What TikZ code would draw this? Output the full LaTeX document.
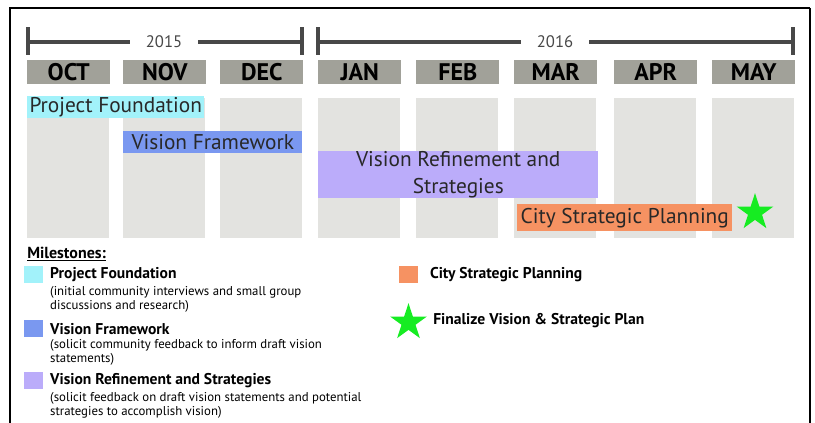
\documentclass[tikz,border=0pt]{standalone}
\usepackage{fontspec}
\setmainfont{PT Sans}
\usetikzlibrary{positioning,shapes.geometric}

\definecolor{monthgray}{RGB}{161,161,153}
\definecolor{colgray}{RGB}{227,227,224}
\definecolor{yeargray}{RGB}{72,72,72}
\definecolor{foundcyan}{RGB}{162,242,250}
\definecolor{frameblue}{RGB}{122,152,240}
\definecolor{refpurple}{RGB}{187,172,250}
\definecolor{cityorange}{RGB}{246,146,98}
\definecolor{stargreen}{RGB}{22,236,34}
\definecolor{bartext}{RGB}{40,40,40}

\tikzset{
  yearline/.style={draw=yeargray, line width=3pt},
  yearlabel/.style={fill=white, text=yeargray, inner xsep=12pt, inner ysep=1pt, font=\fontsize{12.5}{14}\selectfont},
  monthbox/.style={fill=monthgray, anchor=north west, inner sep=0pt, minimum width=62.25pt, minimum height=18pt, font=\bfseries\fontsize{18}{18}\selectfont},
  colbox/.style={fill=colgray, anchor=north west, inner sep=0pt, minimum width=61.5pt, minimum height=105pt},
  phasebar/.style={anchor=north west, inner sep=0pt, text=bartext, align=center, font=\fontsize{16}{20}\selectfont},
  goalstar/.style={star, star points=5, star point ratio=2.618, fill=stargreen, inner sep=0pt, minimum size=29pt},
  keybox/.style={inner sep=0pt, minimum width=14.25pt, minimum height=12.75pt},
  keytitle/.style={inner sep=0pt, font=\bfseries\fontsize{11.7}{13}\selectfont},
  keynote/.style={inner sep=0pt, align=left, font=\fontsize{9.6}{10.5}\selectfont}
}

\begin{document}
\begin{tikzpicture}[x=0.75pt,y=0.75pt,yscale=-1,xscale=1]
\useasboundingbox (0,0) rectangle (815,423);

%Frame
\draw [line width=1.6pt] (10,423) -- (10,8) -- (810,8) ;
\draw [line width=1.1pt] (810,8) -- (810,423) ;

%Year spans
\coordinate (y15a) at (28,42);
\coordinate (y15b) at (302,42);
\coordinate (y16a) at (318,42);
\coordinate (y16b) at (793,42);
\draw [yearline] (y15a) -- (y15b) ;
\draw [yearline] (y16a) -- (y16b) ;
\draw [yearline] ([yshift=-11pt]y15a) -- ([yshift=10pt]y15a) ;
\draw [yearline] ([yshift=-11pt]y15b) -- ([yshift=10pt]y15b) ;
\draw [yearline] ([yshift=-11pt]y16a) -- ([yshift=10pt]y16a) ;
\draw [yearline] ([yshift=-11pt]y16b) -- ([yshift=10pt]y16b) ;
\node [yearlabel] (yr15) at (164,42) {2015};
\node [yearlabel] (yr16) at (555,42) {2016};

%Months and columns
\foreach \m/\x [count=\i] in {OCT/27,NOV/123,DEC/220,JAN/318,FEB/416,MAR/514,APR/614,MAY/712}{
  \node [colbox] (col\i) at (\x,98) {};
  \node [monthbox] (mon\i) at (\x,60) {\m};
}

%Phase bars
\node [phasebar, fill=foundcyan, minimum width=132.75pt, minimum height=16.5pt] (found) at (27,96) {Project Foundation};
\node [phasebar, fill=frameblue, minimum width=134.25pt, minimum height=16.5pt] (frame) at (123,131) {Vision Framework};
\node [phasebar, fill=refpurple, minimum width=210pt, minimum height=35.25pt] (refine) at (318,151) {Vision Refinement and\\Strategies};
\node [phasebar, fill=cityorange, minimum width=161.25pt, minimum height=20.25pt] (city) at (517,204) {City Strategic Planning};
\node [goalstar] (goal) at (755,212.5) {};

%Legend
\node [anchor=west, inner sep=0pt, font=\bfseries\fontsize{12}{13}\selectfont] (mhead) at (27,254) {\underline{Milestones:}};

\node [keybox, fill=foundcyan] (k1) at (33.5,274.5) {};
\node [keytitle, right=5pt of k1] (k1t) {Project Foundation};
\node [keynote, below right=3pt and 0pt of k1t.south west] (k1n) {(initial community interviews and small group\\discussions and research)};

\node [keybox, fill=frameblue] (k2) at (33.5,329) {};
\node [keytitle, right=5pt of k2] (k2t) {Vision Framework};
\node [keynote, below right=3pt and 0pt of k2t.south west] (k2n) {(solicit community feedback to inform draft vision\\statements)};

\node [keybox, fill=refpurple] (k3) at (33.5,381) {};
\node [keytitle, right=5pt of k3] (k3t) {Vision Refinement and Strategies};
\node [keynote, below right=3pt and 0pt of k3t.south west] (k3n) {(solicit feedback on draft vision statements and potential\\strategies to accomplish vision)};

\node [keybox, fill=cityorange] (k4) at (408,274.5) {};
\node [keytitle, right=9pt of k4] (k4t) {City Strategic Planning};

\node [goalstar] (k5) at (408.5,322.5) {};
\node [keytitle, anchor=west] (k5t) at (433,321) {Finalize Vision \& Strategic Plan};

\end{tikzpicture}
\end{document}
